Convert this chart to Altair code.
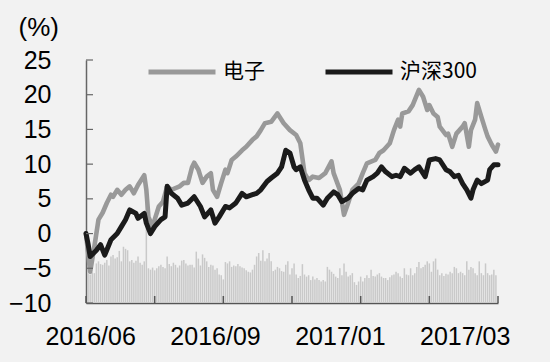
import altair as alt
import pandas as pd

# --- data (x = trading-day index, 0..198) ---
gray_pts = [(0,0),(2,-5.5),(4,-1.9),(6,2),(8,3),(10,4.4),(12,5.6),(13,5.3),(15,6.3),(17,5.6),
            (19,6.3),(21,6.8),(23,5.8),(25,7),(28,8.4),(29,6.3),(30,2.4),(32,1),(33,2),(35,3.9),
            (37,4.6),(39,6.8),(41,6.3),(45,6.8),(47,7.3),(49,7.3),(51,9.6),(52,10.2),(54,9.2),(56,7.3),
            (58,8.2),(60,8.7),(61,6.3),(63,5.3),(65,7.3),(67,9.2),(68,8.7),(70,10.6),(72,11.1),(75,12),
            (77,12.5),(80,13.5),(82,14),(84,14.9),(86,15.9),(89,16.1),(92,17.3),(95,15.9),(98,14.9),(101,14.2),
            (103,13),(105,8.7),(107,7.7),(109,8.2),(112,8),(115,8.7),(118,10.4),(119,8.7),(122,6.3),(124,2.7),
            (126,4.4),(128,6.3),(131,7.2),(133,8.7),(135,10.1),(139,10.6),(141,11.6),(143,12),(146,13),(148,14.9),
            (150,16.4),(151,15.4),(152,17.3),(155,17.6),(157,18.5),(160,20.7),(162,19.7),(164,17.8),(165,18.5),(167,17.3),
            (169,16.8),(170,15.4),(173,14.2),(174,14.4),(176,12.5),(178,14.4),(181,15.4),(182,15.9),(184,12.5),(185,14.9),
            (187,16.4),(188,18.8),(190,16.8),(192,14.9),(193,14),(195,12.8),(197,11.8),(198,12.8)]

black_pts = [(0,0),(1,-1.5),(2,-3.3),(5,-2.4),(7,-1.6),(9,-3.1),(12,-0.9),(15,0),(17,1),(19,2),
             (21,3.4),(24,2.9),(25,2.2),(28,2.9),(29,1.5),(31,0),(33,1),(36,2),(38,2.4),(39,6.8),
             (41,5.8),(44,5.1),(46,4.1),(49,4.4),(52,5.3),(55,3.9),(57,2.4),(60,3.4),(62,1.5),(64,2.4),
             (67,3.9),(69,3.7),(72,4.4),(75,5.8),(77,5.3),(80,5.6),(82,5.8),(84,6.3),(87,7.5),(89,8),
             (92,8.7),(94,9.6),(96,12),(98,11.6),(100,9.6),(101,9.2),(103,9.6),(105,7.7),(107,6.3),(109,5.1),
             (111,5.1),(114,4.1),(116,5.1),(119,6),(121,5.6),(123,4.6),(126,5.1),(128,5.8),(131,6.5),(133,6.3),
             (135,7.7),(138,8.2),(140,8.7),(142,9.6),(144,8.9),(147,8.2),(149,8.4),(151,8.2),(153,9.4),(156,8.7),
             (158,9.2),(160,9.6),(163,8.2),(165,10.6),(168,10.8),(170,10.6),(173,9.2),(175,8.9),(177,8.2),(179,8.4),
             (181,7.2),(183,6.3),(185,5.1),(186,6.3),(188,7.7),(190,7.2),(193,7.7),(194,9.2),(196,9.9),(198,9.9)]

# bar tops for days 1..197 (bars start at -10)
bar_vals = [-5.8,-5.9,-5.6,-5.7,-4.3,-4.0,-4.4,-4.5,-4.2,-3.8,-4.6,-3.3,-3.1,-3.6,-3.4,-2.5,-4.0,-1.9,-2.2,-2.4,
            -4.0,-3.8,-4.2,-3.9,-3.3,-4.2,-4.5,-4.0,6.0,-5.0,-5.2,-4.9,-5.3,-5.0,-4.7,-4.5,-4.8,-5.0,-3.3,-4.4,
            -4.7,-4.2,-4.5,-4.9,-4.6,-3.9,-3.8,-4.3,-4.6,-4.5,-4.5,-4.9,-2.6,-3.6,-4.6,-3.0,-3.5,-4.0,-4.8,-4.5,
            -4.6,-5.2,-5.0,-5.9,-6.0,-6.6,-4.1,-4.3,-4.0,-4.8,-4.6,-4.7,-4.4,-4.7,-4.9,-5.0,-5.3,-5.5,-5.6,-5.2,
            -4.5,-3.3,-2.8,-3.9,-2.4,-4.0,-3.6,-2.8,-4.0,-5.4,-5.2,-4.8,-5.0,-5.4,-5.5,-4.5,-4.0,-5.9,-5.0,-4.3,
            -5.9,-6.4,-6.1,-4.4,-5.9,-6.2,-6.0,-6.7,-6.2,-6.6,-6.4,-6.7,-6.9,-6.7,-6.9,-4.8,-5.2,-5.5,-5.8,-6.2,
            -6.4,-5.0,-6.0,-4.3,-5.5,-6.2,-6.0,-5.7,-7.0,-7.4,-6.9,-6.2,-6.9,-6.4,-6.0,-6.4,-5.2,-6.1,-6.2,-5.9,
            -5.7,-6.2,-6.4,-6.4,-6.7,-6.3,-6.0,-5.9,-5.5,-5.7,-6.2,-6.4,-5.0,-5.9,-6.0,-5.0,-6.0,-5.7,-4.8,-4.1,
            -5.0,-4.8,-4.5,-4.0,-4.3,-5.5,-4.0,-3.6,-5.2,-6.0,-5.7,-6.1,-5.8,-5.9,-5.5,-5.7,-4.8,-5.0,-5.7,-5.5,
            -5.7,-6.0,-4.0,-5.2,-4.8,-5.0,-5.7,-6.0,-4.0,-5.7,-6.0,-4.3,-5.7,-6.0,-5.9,-5.2,-6.0]

series_names = ["电子", "沪深300"]
series_colors = ["#999999", "#1b1b1b"]
y_ticks = [-10, -5, 0, 5, 10, 15, 20, 25]
x_tick_days = [0, 33, 66, 99, 132, 165, 198]
x_label_days = [2, 62, 122, 182]
x_labels = ["2016/06", "2016/09", "2017/01", "2017/03"]

gray_df = pd.DataFrame(gray_pts, columns=["day", "v"]).assign(s=series_names[0])
black_df = pd.DataFrame(black_pts, columns=["day", "v"]).assign(s=series_names[1])
bar_df = pd.DataFrame({"day": list(range(1, len(bar_vals) + 1)), "v": bar_vals})
ytick_df = pd.DataFrame({"v": y_ticks})
xtick_df = pd.DataFrame({"day": x_tick_days})

xscale = alt.Scale(domain=[0, 198], nice=False, zero=False)
yscale = alt.Scale(domain=[-10, 25], nice=False, zero=False)
FONT = "Liberation Sans"

label_expr = "[" + ",".join("'%s'" % l for l in x_labels) + "][indexof([" + \
    ",".join(str(d) for d in x_label_days) + "], datum.value)]"

x_axis = alt.Axis(values=x_label_days, labelExpr=label_expr, ticks=False, grid=False,
                  domainColor="#555555", domainWidth=1.5, labelFontSize=25, labelFont=FONT,
                  labelColor="#000000", labelPadding=21, labelFlush=False, labelOverlap=False,
                  title=None)
y_axis = alt.Axis(values=y_ticks, ticks=False, grid=False, domainColor="#666666", domainWidth=1.5,
                  labelFontSize=25, labelFont=FONT, labelColor="#000000", labelPadding=35,
                  title="(%)", titleAngle=0, titleAlign="left", titleBaseline="middle",
                  titleX=-68, titleY=-33, titleFont=FONT, titleFontSize=26,
                  titleFontWeight="normal", titleColor="#000000")

X = alt.X("day:Q", scale=xscale, axis=x_axis)
Y = alt.Y("v:Q", scale=yscale, axis=y_axis)

color = alt.Color("s:N", scale=alt.Scale(domain=series_names, range=series_colors),
                  legend=alt.Legend(title=None, orient="none", direction="horizontal",
                                    legendX=60, legendY=-24, symbolType="stroke",
                                    symbolSize=4489, symbolStrokeWidth=5,
                                    labelFont="Noto Sans CJK SC", labelFontSize=21,
                                    labelColor="#000000", labelOffset=5, columnPadding=50,
                                    padding=0))

bars = alt.Chart(bar_df).mark_rule(color="#c9c9c9", strokeWidth=1.5).encode(
    x=X, y=Y, y2=alt.datum(-10),
)

gray_line = alt.Chart(gray_df).mark_line(strokeWidth=4.6, strokeJoin="round", strokeCap="round").encode(
    x=X, y=Y, color=color,
)
black_line = alt.Chart(black_df).mark_line(strokeWidth=5, strokeJoin="round", strokeCap="round").encode(
    x=X, y=Y, color=color,
)

yticks = alt.Chart(ytick_df).mark_rule(color="#666666", strokeWidth=1.2).encode(
    y=Y, x=alt.value(0), x2=alt.value(7),
)
xticks = alt.Chart(xtick_df).mark_rule(color="#555555", strokeWidth=1.5).encode(
    x=X, y=alt.value(243), y2=alt.value(236),
)

chart = alt.layer(bars, gray_line, black_line, yticks, xticks).properties(
    width=412, height=243,
    autosize=alt.AutoSizeParams(type="none"),
    padding={"left": 86, "top": 60, "right": 52, "bottom": 59},
    background="#f2f2f2",
).configure_view(stroke=None)

chart.save("out.html", embed_options={"renderer": "svg", "actions": False})
